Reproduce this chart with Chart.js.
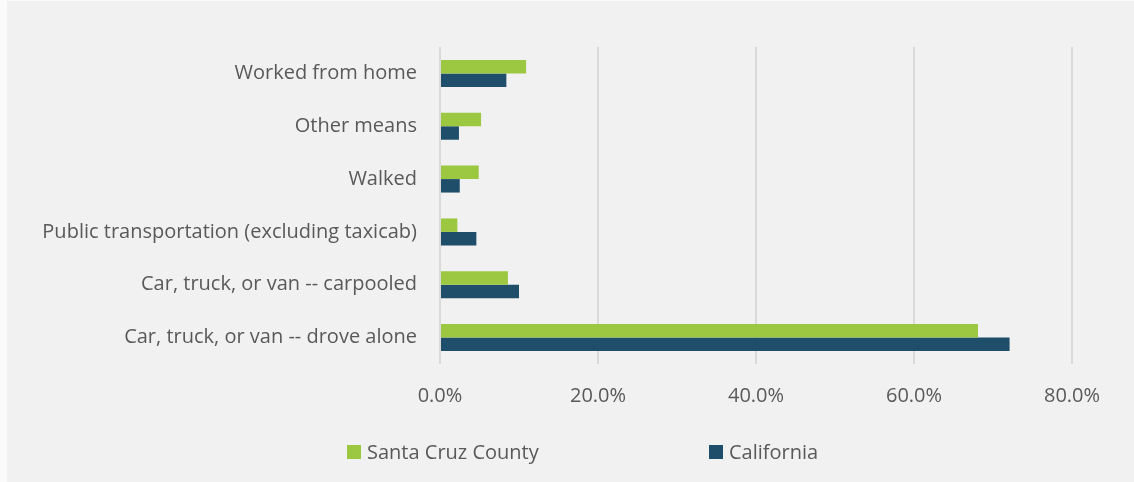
<!DOCTYPE html>
<html>
<head>
<meta charset="utf-8">
<script src="https://cdn.jsdelivr.net/npm/chart.js@4/dist/chart.umd.min.js"></script>
<style>
  html, body { margin: 0; padding: 0; background: #fbfbfb; }
  #wrap { position: absolute; left: 7px; top: 1px; width: 1127px; height: 481px; background: #f1f1f1; }
</style>
</head>
<body>
<div id="wrap"><canvas id="myChart" width="1127" height="481"></canvas></div>
<script>
const modes = [
	"Worked from home",
	"Other means",
	"Walked",
	"Public transportation (excluding taxicab)",
	"Car, truck, or van -- carpooled",
	"Car, truck, or van -- drove alone",
];
const santaCruz = [10.9, 5.2, 4.9, 2.2, 8.6, 68.1];
const california = [8.4, 2.4, 2.5, 4.6, 10.0, 72.1];
const xTicks = [0, 20, 40, 60, 80];

const textColor = "#595959";
const fontFamily = "'Open Sans', sans-serif";
const fontSize = 20;

// legend drawn by hand so the two entries sit far apart like the spreadsheet one
const bottomLegend = {
	id: "bottomLegend",
	afterDraw(chart) {
		const ctx = chart.ctx;
		const xs = [340, 702];
		ctx.save();
		ctx.font = fontSize + "px " + fontFamily;
		ctx.textBaseline = "middle";
		chart.data.datasets.forEach((ds, i) => {
			ctx.fillStyle = ds.backgroundColor;
			ctx.fillRect(xs[i], 444, 14, 14);
			ctx.fillStyle = textColor;
			ctx.fillText(ds.label, xs[i] + 20, 452);
		});
		ctx.restore();
	},
};

const ctx = document.getElementById("myChart").getContext("2d");
const myChart = new Chart(ctx, {
	type: "bar",
	data: {
		labels: modes,
		datasets: [
			{
				label: "Santa Cruz County",
				data: santaCruz,
				backgroundColor: "#9bc840",
			},
			{
				label: "California",
				data: california,
				backgroundColor: "#1f4e6b",
			},
		],
	},
	options: {
		indexAxis: "y",
		responsive: false,
		animation: false,
		datasets: {
			bar: { categoryPercentage: 0.51, barPercentage: 1 },
		},
		layout: {
			padding: { top: 46, right: 62, bottom: 66, left: 0 },
		},
		plugins: {
			legend: { display: false },
			tooltip: { enabled: false },
		},
		scales: {
			x: {
				min: 0,
				max: 80,
				afterBuildTicks: (axis) => {
					axis.ticks = xTicks.map((v) => ({ value: v }));
				},
				afterFit: (axis) => {
					axis.height = 52;
				},
				grid: { color: "#d9d9d9", lineWidth: 2, drawTicks: false },
				border: { display: false },
				ticks: {
					padding: 20,
					color: textColor,
					font: { family: fontFamily, size: fontSize },
					callback: (value) => value.toFixed(1) + "%",
				},
			},
			y: {
				afterFit: (axis) => {
					axis.width = 433;
				},
				grid: { display: false, drawTicks: false },
				border: { display: false },
				ticks: {
					padding: 23,
					color: textColor,
					font: { family: fontFamily, size: fontSize },
				},
			},
		},
	},
	plugins: [bottomLegend],
});
</script>
</body>
</html>
